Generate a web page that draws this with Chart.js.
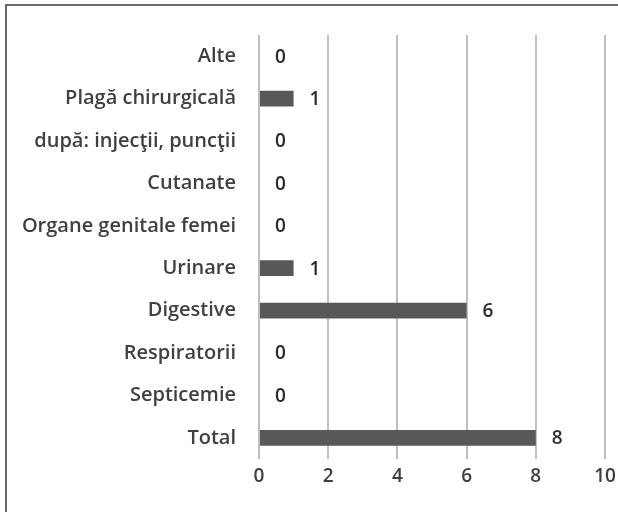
<!DOCTYPE html>
<html>
<head>
<meta charset="utf-8">
<script src="https://cdn.jsdelivr.net/npm/chart.js@4"></script>
<style>
  html, body { margin: 0; padding: 0; background: #fff; }
  #wrap { position: relative; width: 618px; height: 512px; overflow: hidden; }
  #frame { position: absolute; left: 5px; top: 4px; width: 700px; height: 600px;
           border-left: 2px solid #6a6a6a; border-top: 2px solid #6a6a6a; }
  canvas { position: absolute; left: 0; top: 0; }
</style>
</head>
<body>
<div id="wrap">
  <div id="frame"></div>
  <canvas id="chart" width="618" height="512"></canvas>
</div>
<script>
const categories = [
  "Alte",
  "Plagă chirurgicală",
  "după: injecţii, puncţii",
  "Cutanate",
  "Organe genitale femei",
  "Urinare",
  "Digestive",
  "Respiratorii",
  "Septicemie",
  "Total"
];
const values = [0, 1, 0, 0, 0, 1, 6, 0, 0, 8];
const xTicks = [0, 2, 4, 6, 8, 10];

const fontFamily = "'Open Sans', sans-serif";

const valueLabels = {
  id: "valueLabels",
  afterDatasetsDraw(chart) {
    const ctx = chart.ctx;
    const meta = chart.getDatasetMeta(0);
    ctx.save();
    ctx.font = "600 19px " + fontFamily;
    ctx.fillStyle = "#2b2b2b";
    ctx.textAlign = "left";
    ctx.textBaseline = "middle";
    meta.data.forEach((bar, i) => {
      ctx.fillText(String(values[i]), bar.x + 16, bar.y + 1);
    });
    ctx.restore();
  }
};

const canvas = document.getElementById("chart");
const ctx = canvas.getContext("2d");

new Chart(ctx, {
  type: "bar",
  data: {
    labels: categories,
    datasets: [
      {
        data: values,
        backgroundColor: "#58585a",
        categoryPercentage: 1,
        barPercentage: 0.37
      }
    ]
  },
  options: {
    indexAxis: "y",
    responsive: false,
    animation: false,
    layout: { padding: { top: 31, right: 13, left: 0, bottom: 0 } },
    plugins: {
      legend: { display: false },
      tooltip: { enabled: false }
    },
    scales: {
      x: {
        min: 0,
        max: 10,
        afterBuildTicks(scale) {
          scale.ticks = xTicks.map(v => ({ value: v }));
        },
        afterFit(scale) {
          scale.paddingLeft = 0;
          scale.paddingRight = 0;
          scale.height = 53;
        },
        border: { display: false },
        grid: { color: "#bfbfbf", lineWidth: 2, drawTicks: false },
        ticks: {
          padding: 6,
          color: "#404040",
          font: { family: fontFamily, size: 19, weight: "600" }
        }
      },
      y: {
        afterFit(scale) {
          scale.width = 259;
        },
        border: { display: false },
        grid: { display: false, drawTicks: false },
        ticks: {
          padding: 23,
          color: "#404040",
          font: { family: fontFamily, size: 20, weight: "600" }
        }
      }
    }
  },
  plugins: [valueLabels]
});
</script>
</body>
</html>
